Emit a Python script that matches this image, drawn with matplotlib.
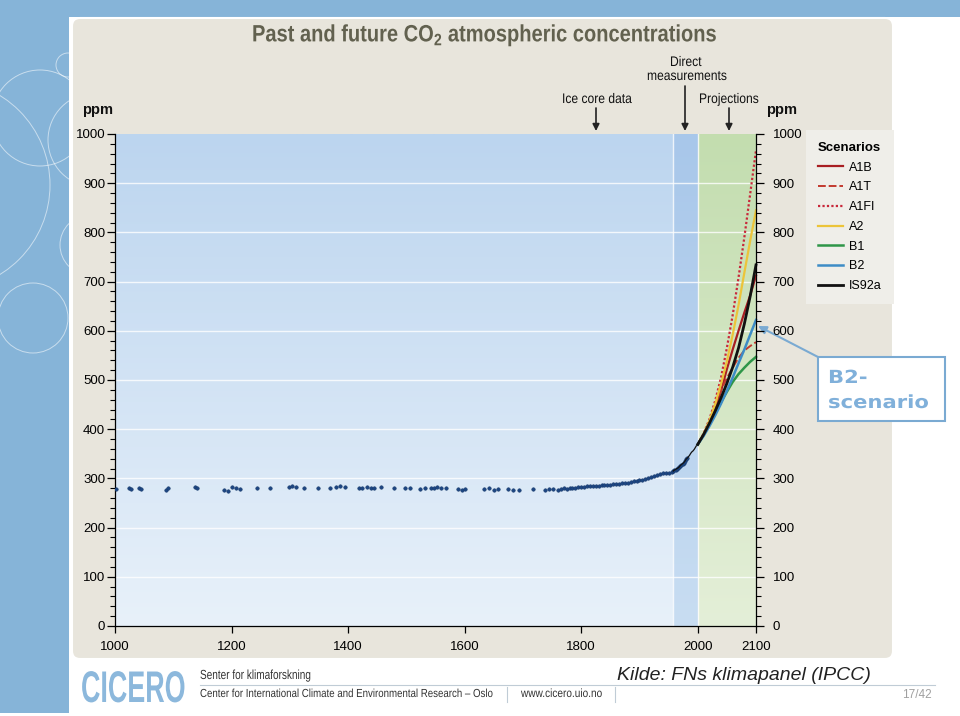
import numpy as np
import matplotlib
matplotlib.use('Agg')
import matplotlib.pyplot as plt
from matplotlib.colors import LinearSegmentedColormap
from matplotlib.patches import Rectangle, FancyBboxPatch, Circle
from matplotlib.patheffects import AbstractPathEffect
from matplotlib.transforms import Affine2D
from matplotlib.ticker import MultipleLocator

SANS = 'Liberation Sans'
plt.rcParams['font.family'] = [SANS, 'DejaVu Sans']


class Squeeze(AbstractPathEffect):
    """Scale text about its left baseline point, to mimic a condensed face."""

    def __init__(self, sx, sy=1.0):
        super().__init__()
        self.sx = sx
        self.sy = sy

    def draw_path(self, renderer, gc, tpath, affine, rgbFace=None):
        m = affine.get_matrix()
        x0, y0 = m[0, 2], m[1, 2]
        t = affine + Affine2D().translate(-x0, -y0).scale(self.sx, self.sy).translate(x0, y0)
        renderer.draw_path(gc, tpath, t, rgbFace)


# ice core data (ppm)
ice_years = [1002, 1024, 1027, 1041, 1045, 1088, 1091, 1137, 1141, 1187, 1194, 1201,
             1208, 1215, 1244, 1266, 1299, 1304, 1311, 1324, 1348, 1369, 1379, 1386,
             1395, 1419, 1424, 1432, 1439, 1444, 1456, 1479, 1498, 1506, 1523, 1532,
             1542, 1547, 1553, 1559, 1568, 1589, 1595, 1601, 1633, 1642, 1650, 1657,
             1674, 1683, 1693, 1717, 1738, 1745, 1752, 1760, 1765, 1770, 1775, 1780,
             1785, 1790, 1795, 1800, 1805, 1810, 1815, 1820, 1825, 1830, 1835, 1840,
             1845, 1850, 1855, 1860, 1865, 1870, 1875, 1880, 1885, 1890, 1895, 1900,
             1905, 1910, 1915, 1920, 1925, 1930, 1935, 1940, 1945, 1950, 1955]
ice_ppm = [279, 280, 279, 280, 278, 276, 281, 282, 281, 277, 274, 282,
           280, 279, 281, 281, 283, 284, 282, 281, 280, 281, 282, 284,
           283, 281, 280, 282, 281, 280, 282, 280, 281, 280, 279, 281,
           280, 281, 282, 280, 281, 279, 277, 278, 279, 280, 276, 279,
           278, 277, 276, 278, 277, 279, 278, 277, 279, 280, 279, 280,
           281, 281, 282, 283, 283, 284, 284, 284, 285, 285, 286, 286,
           287, 287, 288, 288, 289, 290, 290, 291, 292, 294, 295, 296,
           297, 299, 301, 303, 305, 307, 308, 310, 310, 311, 313]

# direct measurements (Mauna Loa)
ml_years = [1958, 1960, 1962, 1964, 1966, 1968, 1970, 1972, 1974, 1976, 1978,
            1980, 1982, 1984, 1986, 1988, 1990, 1992, 1994, 1996, 1998, 2000]
ml_ppm = [315, 317, 318, 320, 321, 323, 326, 328, 330, 332, 335,
          339, 341, 344, 347, 351, 354, 356, 359, 363, 367, 369]

# SRES projections
proj_years = [2000, 2010, 2020, 2030, 2040, 2050, 2060, 2070, 2080, 2090, 2100]
scen_names = ['A1B', 'A1T', 'A1FI', 'A2', 'B1', 'B2', 'IS92a']
scen_ppm = [
    [369, 389, 413, 443, 478, 522, 562, 600, 637, 672, 712],
    [369, 389, 416, 446, 479, 504, 525, 545, 560, 569, 577],
    [369, 391, 420, 458, 505, 565, 632, 708, 790, 878, 967],
    [369, 390, 417, 451, 492, 538, 592, 652, 718, 783, 845],
    [369, 388, 410, 432, 455, 476, 496, 512, 525, 537, 547],
    [369, 386, 406, 428, 452, 478, 505, 534, 562, 592, 622],
    [369, 389, 412, 437, 464, 493, 526, 565, 614, 670, 734],
]
scen_colors = ['#a81e22', '#c23a2e', '#c8283a', '#ecc43a', '#2e9648', '#3d8cc6', '#111111']
scen_styles = ['-', (0, (4, 1.5)), (0, (1, 1)), '-', '-', '-', '-']
scen_widths = [1.6, 1.4, 1.6, 1.6, 1.8, 1.8, 2.0]

y_ticks = [0, 100, 200, 300, 400, 500, 600, 700, 800, 900, 1000]
x_ticks = [1000, 1200, 1400, 1600, 1800, 2000, 2100]

W, H = 960, 716
fig = plt.figure(figsize=(9.6, 7.16), dpi=100)
fig.patch.set_facecolor('white')

# slide background in pixel coordinates
bg = fig.add_axes([0, 0, 1, 1], zorder=0)
bg.set_xlim(0, W)
bg.set_ylim(H, 0)
bg.axis('off')

blue = '#86b4d8'
bg.add_patch(Rectangle((0, 0), W, 17, color=blue, lw=0))
strip = Rectangle((0, 0), 69, 713, color=blue, lw=0)
bg.add_patch(strip)
for cx, cy, r in [(-55, 185, 105), (40, 118, 48), (95, 140, 47), (90, 245, 30),
                  (33, 318, 35), (68, 65, 12)]:
    c = Circle((cx, cy), r, fill=False, ec='white', lw=0.7, alpha=0.55)
    bg.add_patch(c)
    c.set_clip_path(strip)

bg.add_patch(FancyBboxPatch((72, 18), 821, 641,
                            boxstyle='round,pad=0,rounding_size=8',
                            fc='#e8e5dc', ec='white', lw=1.5))


def ctext(x, y, s, sx, sy=1.0, va='center', **kw):
    t = bg.text(x, y, s, ha='left', va=va, **kw)
    t.set_path_effects([Squeeze(sx, sy)])
    return t


ctext(252, 35, 'Past and future CO$_\\mathregular{2}$ atmospheric concentrations', 0.85,
      weight='bold', size=17, color='#62614f')

bg.text(82, 110, 'ppm', weight='bold', size=10.5, va='center', color='#111')
bg.text(766, 110, 'ppm', weight='bold', size=10.5, va='center', color='#111')

ctext(562, 99, 'Ice core data', 0.87, size=10, color='#111')
ctext(670, 62, 'Direct', 0.87, size=10, color='#111')
ctext(647, 76, 'measurements', 0.87, size=10, color='#111')
ctext(699, 99, 'Projections', 0.87, size=10, color='#111')
for ax_x, y0 in [(596, 108), (685, 86), (729, 108)]:
    bg.annotate('', xy=(ax_x, 131), xytext=(ax_x, y0),
                arrowprops=dict(arrowstyle='-|>', color='#222', lw=1.2,
                                mutation_scale=10, shrinkA=0, shrinkB=0))

# main chart
ax = fig.add_axes([115 / W, 1 - 626 / H, 641 / W, 492 / H], zorder=2)
ax.set_xlim(1000, 2100)
ax.set_ylim(0, 1000)

grad = np.linspace(0, 1, 256).reshape(-1, 1)
for x0, x1, c_bot, c_top in [(1000, 1958, '#e8f1fa', '#bcd5ef'),
                             (1958, 2000, '#c8ddf2', '#a8c7ea'),
                             (2000, 2100, '#e4efd8', '#c3ddaf')]:
    cmap = LinearSegmentedColormap.from_list('g', [c_bot, c_top])
    ax.imshow(grad, cmap=cmap, extent=[x0, x1, 0, 1000], aspect='auto',
              origin='lower', zorder=0)
for yv in y_ticks[1:-1]:
    ax.axhline(yv, color='white', lw=1.0, alpha=0.8, zorder=1)
for xv in [1958, 2000]:
    ax.axvline(xv, color='white', lw=1.0, alpha=0.8, zorder=1)

ax.plot(ice_years, ice_ppm, 'o', ms=2.5, color='#1d4784', mec='#16386a', mew=0.4, zorder=4)
ax.plot(ml_years, ml_ppm, '-', color='#111', lw=0.9, zorder=5)
ax.plot(ml_years[:13], ml_ppm[:13], 'o', ms=2.5, color='#1d4784', mec='#16386a',
        mew=0.4, zorder=4)

handles = []
for name, vals, col, ls, lw in zip(scen_names, scen_ppm, scen_colors, scen_styles, scen_widths):
    ln, = ax.plot(proj_years, vals, color=col, ls=ls, lw=lw, label=name, zorder=6,
                  clip_on=False)
    handles.append(ln)

ax.set_xticks(x_ticks)
ax.yaxis.set_major_locator(MultipleLocator(100))
ax.yaxis.set_minor_locator(MultipleLocator(20))
ax.tick_params(axis='y', which='major', direction='out', length=6, width=0.9,
               labelsize=9.5, pad=1)
ax.tick_params(axis='y', which='minor', direction='out', length=3.5, width=0.8)
ax.tick_params(axis='x', direction='out', length=5, width=0.9, labelsize=9.5, pad=6)
for s in ['top', 'right']:
    ax.spines[s].set_visible(False)
ax.spines['left'].set_linewidth(0.9)
ax.spines['bottom'].set_linewidth(0.9)

axr = ax.twinx()
axr.set_ylim(0, 1000)
axr.yaxis.set_major_locator(MultipleLocator(100))
axr.yaxis.set_minor_locator(MultipleLocator(20))
axr.tick_params(axis='y', which='major', direction='out', length=6, width=0.9,
                labelsize=9.5, pad=6)
axr.tick_params(axis='y', which='minor', direction='out', length=3.5, width=0.8)
for s in ['top', 'left', 'bottom']:
    axr.spines[s].set_visible(False)
axr.spines['right'].set_linewidth(0.9)

leg = ax.legend(handles=handles, loc='upper left',
                bbox_to_anchor=(806 / W, 1 - 130 / H), bbox_transform=fig.transFigure,
                title='Scenarios', fontsize=9, title_fontsize=9.5, frameon=True,
                fancybox=False, facecolor='#efeee9', edgecolor='none', framealpha=1,
                handlelength=2.0, handletextpad=0.5, labelspacing=0.62,
                borderpad=0.95, borderaxespad=0, alignment='left')
leg.get_title().set_fontweight('bold')
leg.set_zorder(10)

# B2 callout
bg.add_patch(Rectangle((818, 357), 127, 64, fc='white', ec='#7aaad2', lw=1.5))
for yy, s in [(378, 'B2-'), (403, 'scenario')]:
    t = bg.text(828, yy, s, color='#80b0da', weight='bold', size=13, va='center',
                family='DejaVu Sans')
    t.set_path_effects([Squeeze(1.17)])
bg.annotate('', xy=(758, 326), xytext=(818, 357),
            arrowprops=dict(arrowstyle='-|>', color='#7aaad2', lw=1.5,
                            mutation_scale=12, shrinkA=0, shrinkB=0))

# footer
ctext(81, 702, 'CICERO', 0.88, 1.45, va='baseline', weight='bold', size=22,
      color='#8cb8dc')
ctext(200, 676, 'Senter for klimaforskning', 0.76, size=9.5, color='#333')
bg.plot([200, 935], [685, 685], color='#c0ccd6', lw=0.8)
ctext(200, 694, 'Center for International Climate and Environmental Research \u2013 Oslo',
      0.93, 1.12, size=7.5, color='#333')
bg.plot([507, 507], [687, 702], color='#c0ccd6', lw=0.8)
ctext(521, 694, 'www.cicero.uio.no', 0.93, 1.1, size=7.8, color='#333')
bg.plot([615, 615], [687, 702], color='#c0ccd6', lw=0.8)
bg.text(617, 675, 'Kilde: FNs klimapanel (IPCC)', style='italic', size=14,
        color='#222', va='center')
bg.text(932, 695, '17/42', size=8.5, color='#a0a0a0', ha='right', va='center')

fig.savefig('out.png', dpi=100)
